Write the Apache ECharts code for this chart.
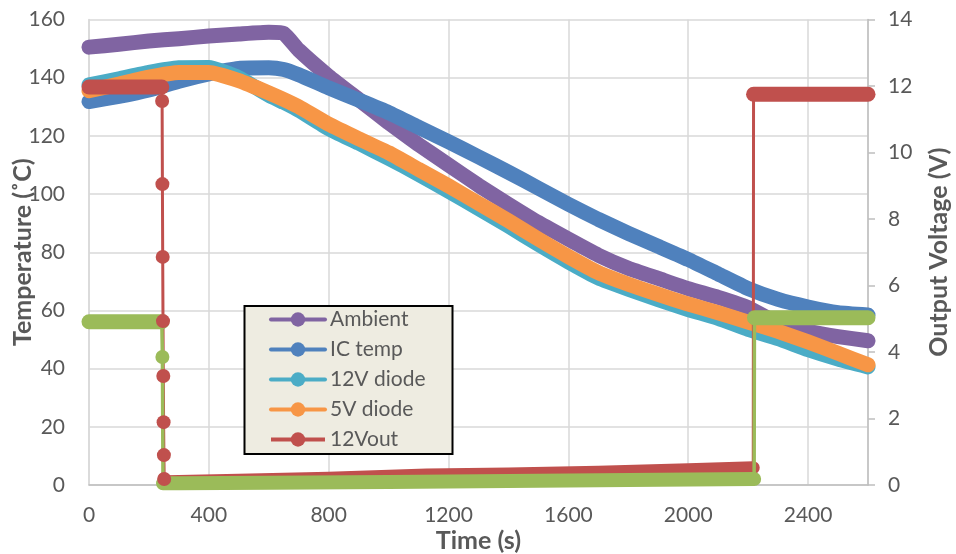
<!DOCTYPE html>
<html><head><meta charset="utf-8">
<script src="https://cdn.jsdelivr.net/npm/echarts@6/dist/echarts.min.js"></script>
<style>html,body{margin:0;padding:0;background:#fff}#c{width:956px;height:554px}</style>
</head><body><div id="c"></div>
<script>
// ---- data ----
const tempTime = [0,100,200,300,400,500,600,650,700,800,900,1000,1100,1200,1300,1400,1500,1600,1700,1800,1900,2000,2100,2200,2300,2400,2500,2600];
const ambient  = [150.5,151.5,152.6,153.4,154.3,155.0,155.6,155.2,149.5,140.5,132.5,124.5,117.0,110.0,103.0,96.5,90.2,84.5,79.0,74.5,71.0,67.5,64.5,61.0,55.5,52.8,51.0,49.6];
const icTemp   = [131.8,133.6,135.8,138.8,141.3,143.2,143.4,142.8,141.0,136.5,132.3,128.0,123.0,118.0,112.8,107.5,102.0,96.5,91.3,86.5,82.0,77.5,72.5,67.5,63.8,61.2,59.2,58.4];
const diode12  = [137.5,139.6,141.8,143.4,143.5,140.0,134.0,131.5,128.8,122.5,117.5,112.3,106.8,101.0,95.0,89.0,82.7,76.7,71.2,67.3,63.7,60.3,57.3,53.5,50.3,46.5,43.3,40.6];
const diode5   = [135.5,137.8,140.2,141.8,141.8,139.0,134.8,132.5,130.0,124.0,119.0,114.2,108.5,102.8,96.8,90.8,84.5,78.5,73.0,69.0,65.5,62.2,59.2,56.0,52.8,49.2,45.3,41.3];

const redTime  = [0,100,200,243,244,245,246,247,248,249,250,251,260,500,800,1127,1400,1700,2000,2217,2218,2300,2400,2500,2600];
const redVolt  = [11.97,11.97,11.97,11.97,11.55,9.05,6.86,4.93,3.28,1.89,0.90,0.18,0.10,0.14,0.20,0.30,0.33,0.38,0.46,0.52,11.75,11.75,11.75,11.75,11.75];
const greenTime = [0,100,200,243,245,247,300,600,1000,1400,1800,2220,2221,2300,2400,2500,2600];
const greenVolt = [4.91,4.91,4.91,4.91,3.85,0.05,0.05,0.07,0.09,0.12,0.15,0.18,5.03,5.03,5.03,5.03,5.03];

const xTicks = [0,400,800,1200,1600,2000,2400];
const legendNames = ['Ambient','IC temp','12V diode','5V diode','12Vout'];

// ---- chart ----
const FONT = 'Lato';
const pairs = (t, v, a, b) => t.slice(a, b).map((x, i) => [x, v[a + i]]);
const tempSeries = (name, vals, color) => ({
  name, type: 'line', yAxisIndex: 0, data: pairs(tempTime, vals, 0, tempTime.length),
  symbol: 'circle', showSymbol: false, clip: false, smooth: 0.15,
  itemStyle: {color}, lineStyle: {color, width: 15, cap: 'round', join: 'round'}
});
const band = (name, t, v, a, b, color, w) => ({
  name, type: 'line', yAxisIndex: 1, data: pairs(t, v, a, b), symbol: 'none', clip: false,
  lineStyle: {color, width: w, cap: 'round', join: 'round'}, silent: true
});
const thin = (name, t, v, color, w, first, last) => ({
  name, type: 'line', yAxisIndex: 1, data: pairs(t, v, 0, t.length), symbol: 'circle',
  symbolSize: (val, p) => (p.dataIndex >= first && p.dataIndex <= last) ? 14 : 0,
  showSymbol: true, clip: false, itemStyle: {color}, lineStyle: {color, width: w}
});
const RED = '#C0504D', GREEN = '#9BBB59';
const nameStyle = {fontFamily: FONT, fontSize: 25, fontWeight: 'bold', color: '#595959'};
const chart = echarts.init(document.getElementById('c'));
chart.setOption({
  animation: false,
  textStyle: {fontFamily: FONT},
  grid: {left: 89, right: 88, top: 19.5, bottom: 69, containLabel: false, outerBoundsMode: 'none'},
  xAxis: {
    type: 'value', min: 0, max: 2600, interval: 400,
    name: 'Time (s)', nameLocation: 'middle', nameGap: 43, nameMoveOverlap: false,
    nameTextStyle: nameStyle,
    axisLine: {show: true, lineStyle: {color: '#BFBFBF', width: 1.5}},
    axisTick: {show: false},
    axisLabel: {fontFamily: FONT, fontSize: 21, color: '#595959', margin: 20, showMaxLabel: false,
      formatter: v => xTicks.includes(v) ? String(v) : ''},
    splitLine: {show: true, lineStyle: {color: '#D9D9D9', width: 1.5}}
  },
  yAxis: [{
    type: 'value', min: 0, max: 160, interval: 20,
    name: 'Temperature (˚C)', nameLocation: 'middle', nameGap: 54, nameMoveOverlap: false,
    nameTextStyle: nameStyle,
    axisLine: {show: true, lineStyle: {color: '#D9D9D9', width: 1.5}},
    axisTick: {show: false},
    axisLabel: {fontFamily: FONT, fontSize: 21, color: '#595959', margin: 24},
    splitLine: {show: true, lineStyle: {color: '#D9D9D9', width: 1.5}}
  }, {
    type: 'value', min: 0, max: 14, interval: 2, position: 'right',
    name: 'Output Voltage (V)', nameLocation: 'middle', nameGap: 58, nameMoveOverlap: false,
    nameTextStyle: nameStyle,
    axisLine: {show: true, lineStyle: {color: '#BFBFBF', width: 1.5}},
    axisTick: {show: true, inside: false, length: 7, lineStyle: {color: '#BFBFBF', width: 1.5}},
    axisLabel: {fontFamily: FONT, fontSize: 21, color: '#595959', margin: 20},
    splitLine: {show: false}
  }],
  legend: {
    data: legendNames, orient: 'vertical', left: 269, top: 309, padding: 0,
    itemWidth: 54, itemHeight: 18, itemGap: 9, selectedMode: false, z: 20,
    lineStyle: {width: 4},
    textStyle: {fontFamily: FONT, fontSize: 21, color: '#595959'}
  },
  graphic: [{
    type: 'rect', z: 10, shape: {x: 244.5, y: 306, width: 208, height: 148},
    style: {fill: '#EEECE1', stroke: '#000', lineWidth: 2}
  }],
  series: [
    tempSeries('Ambient', ambient, '#8064A2'),
    tempSeries('IC temp', icTemp, '#4F81BD'),
    tempSeries('12V diode', diode12, '#4BACC6'),
    tempSeries('5V diode', diode5, '#F79646'),
    thin('12Vout', redTime, redVolt, RED, 3, 4, 11),
    band('12Vout-a', redTime, redVolt, 0, 4, RED, 15),
    band('12Vout-b', redTime, redVolt, 11, 20, RED, 13),
    band('12Vout-c', redTime, redVolt, 20, 25, RED, 15),
    thin('5Vout', greenTime, greenVolt, GREEN, 3.5, 4, 4),
    band('5Vout-a', greenTime, greenVolt, 0, 4, GREEN, 15),
    band('5Vout-b', greenTime, greenVolt, 5, 12, GREEN, 14),
    band('5Vout-c', greenTime, greenVolt, 12, 17, GREEN, 15)
  ]
});
</script></body></html>
